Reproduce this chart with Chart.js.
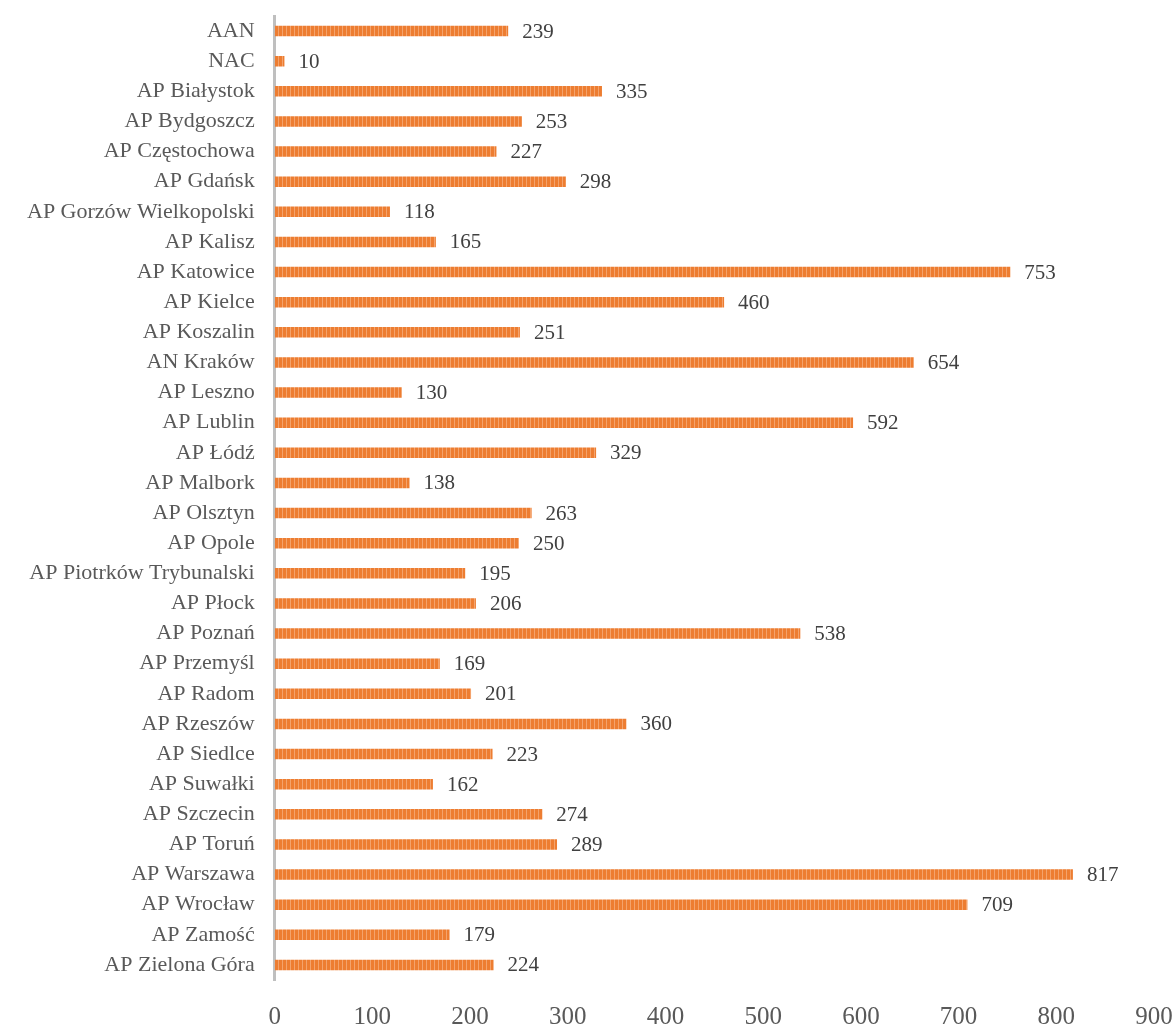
<!DOCTYPE html>
<html>
<head>
<meta charset="utf-8">
<script src="https://cdn.jsdelivr.net/npm/chart.js@4.4.1/dist/chart.umd.min.js"></script>
<style>
  html, body { margin: 0; padding: 0; background: #fff; }
  #wrap { width: 1176px; height: 1028px; }
</style>
</head>
<body>
<div id="wrap"><canvas id="myChart" width="1176" height="1028"></canvas></div>
<script>
const archives = ['AAN', 'NAC', 'AP Białystok', 'AP Bydgoszcz', 'AP Częstochowa', 'AP Gdańsk',
  'AP Gorzów Wielkopolski', 'AP Kalisz', 'AP Katowice', 'AP Kielce', 'AP Koszalin', 'AN Kraków',
  'AP Leszno', 'AP Lublin', 'AP Łódź', 'AP Malbork', 'AP Olsztyn', 'AP Opole',
  'AP Piotrków Trybunalski', 'AP Płock', 'AP Poznań', 'AP Przemyśl', 'AP Radom', 'AP Rzeszów',
  'AP Siedlce', 'AP Suwałki', 'AP Szczecin', 'AP Toruń', 'AP Warszawa', 'AP Wrocław',
  'AP Zamość', 'AP Zielona Góra'];
const counts = [239, 10, 335, 253, 227, 298, 118, 165, 753, 460, 251, 654, 130, 592, 329, 138,
  263, 250, 195, 206, 538, 169, 201, 360, 223, 162, 274, 289, 817, 709, 179, 224];
const xTicks = [0, 100, 200, 300, 400, 500, 600, 700, 800, 900];

const textColor = '#595959';
const fontName = '"Liberation Serif", "DejaVu Serif", serif';

// striped orange fill like the original
const pc = document.createElement('canvas');
pc.width = 4; pc.height = 4;
const pctx = pc.getContext('2d');
pctx.fillStyle = '#ED7D31';
pctx.fillRect(0, 0, 4, 4);
pctx.fillStyle = '#F4A36C';
pctx.fillRect(2, 0, 1, 4);
const ctx = document.getElementById('myChart').getContext('2d');
const stripes = ctx.createPattern(pc, 'repeat');

const valueLabels = {
  id: 'valueLabels',
  afterDatasetsDraw(chart) {
    const c = chart.ctx;
    const meta = chart.getDatasetMeta(0);
    c.save();
    c.font = '21px ' + fontName;
    c.fillStyle = '#404040';
    c.textAlign = 'left';
    c.textBaseline = 'middle';
    meta.data.forEach((bar, i) => {
      c.fillText(String(counts[i]), bar.x + 14, bar.y + 1);
    });
    c.restore();
  }
};

const myChart = new Chart(ctx, {
  type: 'bar',
  data: {
    labels: archives,
    datasets: [{
      data: counts,
      backgroundColor: stripes,
      borderWidth: 0,
      barPercentage: 0.7,
      categoryPercentage: 0.5
    }]
  },
  options: {
    indexAxis: 'y',
    responsive: false,
    animation: false,
    layout: { padding: { top: 16, right: 22, bottom: 0, left: 7 } },
    plugins: { legend: { display: false }, tooltip: { enabled: false } },
    scales: {
      x: {
        min: 0,
        max: 900,
        afterBuildTicks: (axis) => { axis.ticks = xTicks.map(v => ({ value: v })); },
        afterFit: (axis) => { axis.height = 48; axis.paddingRight = 0; axis.paddingLeft = 0; },
        grid: { display: false, drawTicks: false },
        border: { display: false },
        ticks: { color: textColor, font: { family: fontName, size: 25 }, padding: 22 }
      },
      y: {
        afterFit: (axis) => { axis.paddingTop = 0; axis.paddingBottom = 0; },
        grid: { display: false, drawTicks: false },
        border: { display: true, color: '#BFBFBF', width: 3 },
        ticks: { color: textColor, font: { family: fontName, size: 22 }, padding: 20, autoSkip: false }
      }
    }
  },
  plugins: [valueLabels]
});
</script>
</body>
</html>
